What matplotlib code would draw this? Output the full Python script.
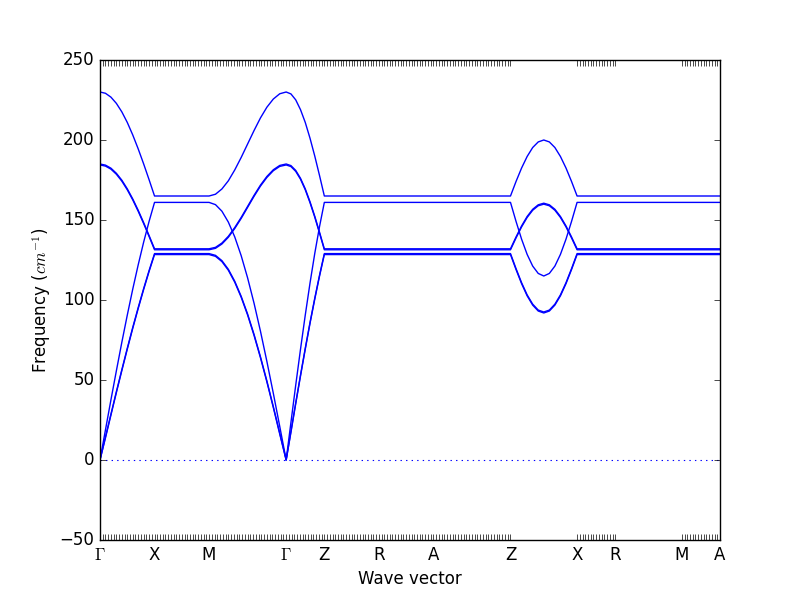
import numpy as np
import matplotlib
matplotlib.use('Agg')
import matplotlib.pyplot as plt

plt.style.use('classic')

# High-symmetry path
path_labels = [r'$\Gamma$', 'X', 'M', r'$\Gamma$', 'Z', 'R', 'A', 'Z', 'X', 'R', 'M', 'A']
segment_lengths = [1.0, 1.0, 1.414, 0.70, 1.0, 1.0, 1.414, 1.221, 0.70, 1.221, 0.70]
# number of q-point intervals per segment (for the tick marks); 0 = no ticks
segment_qpoint_intervals = [20, 20, 28, 14, 20, 20, 28, 0, 14, 0, 14]

# Band frequencies (cm^-1), one list per path segment
band1 = [
    [230.0, 229.2, 226.8, 222.9, 217.6, 211.0, 203.2, 194.5, 185.1, 175.2, 165.0],
    [165.0, 165.0],
    [165.0, 166.1, 169.4, 174.5, 181.3, 189.1, 197.5, 205.9, 213.8, 220.5, 225.6, 228.9, 230.0],
    [230.0, 228.8, 225.1, 219.0, 211.0, 201.1, 189.9, 177.7, 165.0],
    [165.0, 165.0],
    [165.0, 165.0],
    [165.0, 165.0],
    [165.0, 174.1, 182.5, 189.7, 195.3, 198.8, 200.0, 198.8, 195.3, 189.7, 182.5, 174.1, 165.0],
    [165.0, 165.0],
    [165.0, 165.0],
    [165.0, 165.0],
]
band2 = [
    [0.0, 18.8, 37.5, 55.7, 73.5, 90.5, 106.7, 121.9, 136.1, 149.1, 161.0],
    [161.0, 161.0],
    [161.0, 159.6, 155.5, 148.7, 139.4, 127.7, 113.8, 98.0, 80.5, 61.6, 41.7, 21.0, 0.0],
    [0.0, 23.5, 46.7, 69.1, 90.5, 110.6, 129.2, 146.0, 161.0],
    [161.0, 161.0],
    [161.0, 161.0],
    [161.0, 161.0],
    [161.0, 149.1, 138.0, 128.5, 121.2, 116.6, 115.0, 116.6, 121.2, 128.5, 138.0, 149.1, 161.0],
    [161.0, 161.0],
    [161.0, 161.0],
    [161.0, 161.0],
]
band3 = [
    [185.0, 184.3, 182.4, 179.2, 174.9, 169.5, 163.2, 156.1, 148.4, 140.3, 132.0],
    [132.0, 132.0],
    [132.0, 132.9, 135.6, 139.8, 145.3, 151.6, 158.5, 165.4, 171.8, 177.2, 181.4, 184.1, 185.0],
    [185.0, 184.0, 181.0, 176.1, 169.5, 161.4, 152.3, 142.3, 132.0],
    [132.0, 132.0],
    [132.0, 132.0],
    [132.0, 132.0],
    [132.0, 139.4, 146.3, 152.2, 156.7, 159.5, 160.5, 159.5, 156.7, 152.2, 146.3, 139.4, 132.0],
    [132.0, 132.0],
    [132.0, 132.0],
    [132.0, 132.0],
]
band4 = [
    [184.4, 183.7, 181.8, 178.6, 174.3, 168.9, 162.6, 155.5, 147.8, 139.7, 131.4],
    [131.4, 131.4],
    [131.4, 132.3, 135.0, 139.2, 144.7, 151.0, 157.9, 164.8, 171.2, 176.6, 180.8, 183.5, 184.4],
    [184.4, 183.4, 180.4, 175.5, 168.9, 160.8, 151.7, 141.7, 131.4],
    [131.4, 131.4],
    [131.4, 131.4],
    [131.4, 131.4],
    [131.4, 138.8, 145.7, 151.6, 156.1, 158.9, 159.9, 158.9, 156.1, 151.6, 145.7, 138.8, 131.4],
    [131.4, 131.4],
    [131.4, 131.4],
    [131.4, 131.4],
]
band5 = [
    [0.0, 14.4, 28.6, 42.7, 56.4, 69.8, 82.8, 95.2, 107.1, 118.4, 129.0],
    [129.0, 129.0],
    [129.0, 127.9, 124.6, 119.2, 111.7, 102.3, 91.2, 78.5, 64.5, 49.4, 33.4, 16.8, 0.0],
    [0.0, 17.9, 35.7, 53.0, 69.8, 86.0, 101.2, 115.6, 129.0],
    [129.0, 129.0],
    [129.0, 129.0],
    [129.0, 129.0],
    [129.0, 119.6, 110.8, 103.2, 97.4, 93.7, 92.5, 93.7, 97.4, 103.2, 110.8, 119.6, 129.0],
    [129.0, 129.0],
    [129.0, 129.0],
    [129.0, 129.0],
]
band6 = [
    [0.0, 13.8, 28.0, 42.1, 55.8, 69.2, 82.2, 94.6, 106.5, 117.8, 128.4],
    [128.4, 128.4],
    [128.4, 127.3, 124.0, 118.6, 111.1, 101.7, 90.6, 77.9, 63.9, 48.8, 32.8, 16.2, 0.0],
    [0.0, 17.3, 35.1, 52.4, 69.2, 85.4, 100.6, 115.0, 128.4],
    [128.4, 128.4],
    [128.4, 128.4],
    [128.4, 128.4],
    [128.4, 119.0, 110.2, 102.6, 96.8, 93.1, 91.9, 93.1, 96.8, 102.6, 110.2, 119.0, 128.4],
    [128.4, 128.4],
    [128.4, 128.4],
    [128.4, 128.4],
]
bands = [band1, band2, band3, band4, band5, band6]

# cumulative path distances
node_pos = np.concatenate([[0.0], np.cumsum(segment_lengths)])

fig = plt.figure(figsize=(8, 6), dpi=100)
ax = fig.add_subplot(111)

for band in bands:
    xs, ys = [], []
    for i, seg in enumerate(band):
        xs.extend(np.linspace(node_pos[i], node_pos[i + 1], len(seg)))
        ys.extend(seg)
    ax.plot(xs, ys, color='b', linewidth=1.0)

ax.axhline(0, color='b', linestyle=':', linewidth=0.8)

ax.set_xlim(node_pos[0], node_pos[-1])
ax.set_ylim(-50, 250)
ax.set_yticks(np.arange(-50, 251, 50))

# q-point tick marks
qticks = []
for i, n in enumerate(segment_qpoint_intervals):
    if n > 0:
        qticks.extend(np.linspace(node_pos[i], node_pos[i + 1], n + 1))
ax.set_xticks(qticks, minor=True)
ax.set_xticks(node_pos)
ax.set_xticklabels(path_labels)
ax.tick_params(axis='x', which='both', direction='in', top=True, bottom=True,
               length=4, width=0.5)
ax.tick_params(axis='y', which='major', direction='in', left=True, right=True,
               length=4)

ax.set_xlabel('Wave vector')
ax.set_ylabel(r'Frequency ($cm^{-1}$)')

fig.subplots_adjust(left=0.125, right=0.9, bottom=0.1, top=0.9)
fig.savefig('out.png', dpi=100)
